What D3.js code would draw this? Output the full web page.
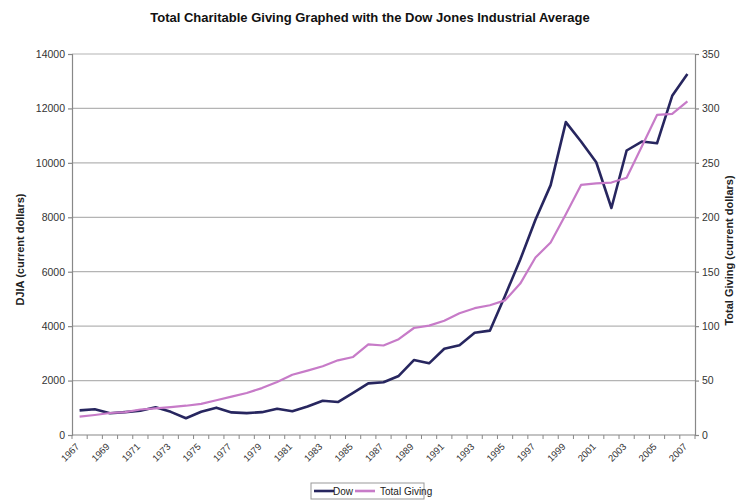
<!DOCTYPE html>
<html>
<head>
<meta charset="utf-8">
<script src="https://cdn.jsdelivr.net/npm/d3@7/dist/d3.min.js"></script>
<style>
  body { margin: 0; background: #fff; }
  svg { font-family: Arial, "Liberation Sans", sans-serif; }
  .tick text { fill: #333; font-size: 10.5px; }
</style>
</head>
<body>
<svg id="chart" width="738" height="502"></svg>
<script>
// years on the category axis
const years = d3.range(1967, 2008);

// Dow Jones Industrial Average, year end (current dollars)
const dow = [
  905, 944, 800, 839, 890, 1020, 851, 616, 852, 1005,
  831, 805, 839, 964, 875, 1047, 1259, 1212, 1547, 1896,
  1939, 2169, 2753, 2634, 3169, 3301, 3754, 3834, 5117, 6448,
  7908, 9181, 11497, 10787, 10022, 8342, 10454, 10783, 10718, 12463,
  13265
];

// total charitable giving, billions (current dollars)
const giving = [
  16.8, 18.4, 20.2, 21.0, 23.4, 24.4, 25.6, 26.9, 28.6, 31.9,
  35.2, 38.6, 43.1, 48.6, 55.3, 59.1, 63.2, 68.6, 71.7, 83.3,
  82.2, 88.0, 98.3, 100.5, 104.9, 111.8, 116.5, 119.2, 123.7, 139.1,
  163.0, 176.8, 202.7, 229.7, 231.1, 231.9, 236.3, 265.1, 294.0, 295.0,
  306.4
];

const leftTicks = d3.range(0, 14001, 2000);
const rightTicks = d3.range(0, 351, 50);

const dowColor = '#27265f';
const givingColor = '#c77bc8';

const svg = d3.select('#chart');
const plotL = 72, plotR = 695, plotT = 54, plotB = 435;

const x = d3.scaleBand().domain(years).range([plotL, plotR]);
const yL = d3.scaleLinear().domain([0, 14000]).range([plotB, plotT]);
const yR = d3.scaleLinear().domain([0, 350]).range([plotB, plotT]);
const cx = (yr) => x(yr) + x.bandwidth() / 2;

// title
svg.append('text')
  .attr('x', 370).attr('y', 22)
  .attr('text-anchor', 'middle')
  .attr('font-size', 13).attr('font-weight', 'bold')
  .attr('fill', '#111')
  .text('Total Charitable Giving Graphed with the Dow Jones Industrial Average');

// gridlines
svg.append('g')
  .selectAll('line')
  .data(leftTicks.filter((d) => d > 0))
  .enter()
  .append('line')
  .attr('x1', plotL).attr('x2', plotR)
  .attr('y1', (d) => yL(d)).attr('y2', (d) => yL(d))
  .attr('stroke', '#b4b4b4').attr('stroke-width', 1.2);

// left axis
const gL = svg.append('g')
  .attr('transform', `translate(${plotL},0)`)
  .call(d3.axisLeft(yL).tickValues(leftTicks).tickSize(4).tickPadding(3).tickFormat(d3.format('d')));
gL.selectAll('.domain, line').attr('stroke', '#888').attr('stroke-width', 1.2);

// right axis
const gR = svg.append('g')
  .attr('transform', `translate(${plotR},0)`)
  .call(d3.axisRight(yR).tickValues(rightTicks).tickSize(4).tickPadding(3));
gR.selectAll('.domain, line').attr('stroke', '#888').attr('stroke-width', 1.2);

// bottom axis: tick marks between categories
const gB = svg.append('g').attr('transform', `translate(0,${plotB})`);
gB.append('line')
  .attr('x1', plotL).attr('x2', plotR)
  .attr('stroke', '#888').attr('stroke-width', 1.2);
gB.selectAll('line.tk')
  .data(years.concat([null]))
  .enter()
  .append('line')
  .attr('class', 'tk')
  .attr('x1', (d) => (d === null ? plotR : x(d)))
  .attr('x2', (d) => (d === null ? plotR : x(d)))
  .attr('y1', 0).attr('y2', 4)
  .attr('stroke', '#888');
gB.selectAll('text')
  .data(years.filter((d) => (d - 1967) % 2 === 0))
  .enter()
  .append('text')
  .attr('transform', (d) => `translate(${cx(d) - 2},10) rotate(-45)`)
  .attr('text-anchor', 'end')
  .attr('dy', '0.35em')
  .attr('font-size', 9.5)
  .attr('fill', '#333')
  .text((d) => d);

// axis titles
svg.append('text')
  .attr('transform', `translate(24,${(plotT + plotB) / 2 + 5}) rotate(-90)`)
  .attr('text-anchor', 'middle')
  .attr('font-size', 11).attr('font-weight', 'bold').attr('fill', '#222')
  .text('DJIA (current dollars)');

svg.append('text')
  .attr('transform', `translate(733,${(plotT + plotB) / 2 + 6}) rotate(-90)`)
  .attr('text-anchor', 'middle')
  .attr('font-size', 11).attr('font-weight', 'bold').attr('fill', '#222')
  .text('Total Giving (current dollars)');

// lines
const lineL = d3.line().x((d, i) => cx(years[i])).y((d) => yL(d));
const lineR = d3.line().x((d, i) => cx(years[i])).y((d) => yR(d));

svg.append('path')
  .datum(dow)
  .attr('d', lineL)
  .attr('fill', 'none')
  .attr('stroke', dowColor)
  .attr('stroke-width', 2.6)
  .attr('stroke-linejoin', 'round');

svg.append('path')
  .datum(giving)
  .attr('d', lineR)
  .attr('fill', 'none')
  .attr('stroke', givingColor)
  .attr('stroke-width', 2.2)
  .attr('stroke-linejoin', 'round');

// legend
const legend = svg.append('g').attr('transform', 'translate(311,483)');
legend.append('rect')
  .attr('width', 113).attr('height', 16)
  .attr('fill', '#fff').attr('stroke', '#999');
const items = [['Dow', dowColor, 3, 22], ['Total Giving', givingColor, 44, 69]];
items.forEach(([label, col, lx, tx]) => {
  legend.append('line')
    .attr('x1', lx).attr('x2', lx + 20)
    .attr('y1', 8).attr('y2', 8)
    .attr('stroke', col).attr('stroke-width', 2.6);
  legend.append('text')
    .attr('x', tx).attr('y', 11.5)
    .attr('font-size', 10).attr('fill', '#222')
    .text(label);
});
</script>
</body>
</html>
